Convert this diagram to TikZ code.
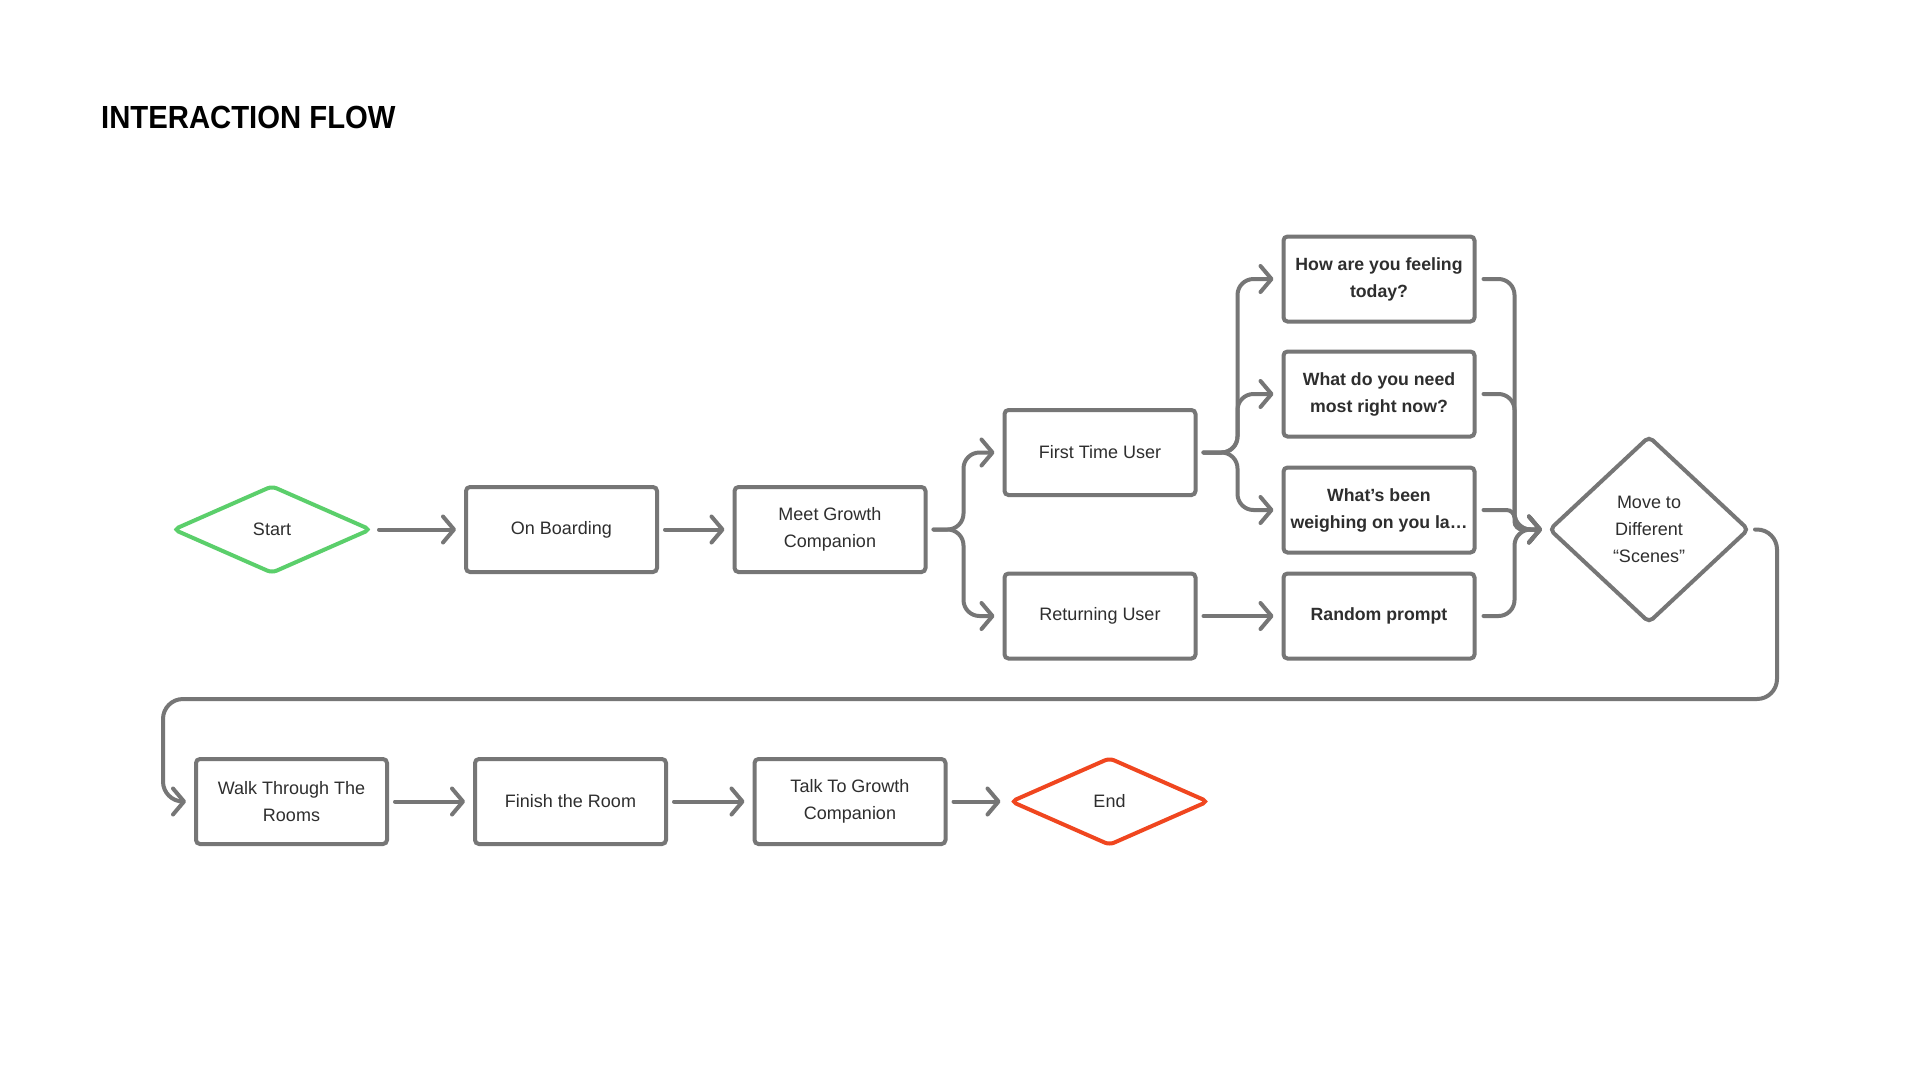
\documentclass[tikz,border=0pt]{standalone}
\usepackage{graphicx}
\usepackage{fontspec}
\setmainfont{Liberation Sans}
\usetikzlibrary{shapes.geometric,arrows.meta,calc}
\definecolor{lineg}{HTML}{767676}
\definecolor{txt}{HTML}{2E2E2E}
\definecolor{startg}{HTML}{5BCF6B}
\definecolor{endo}{HTML}{F0461F}
\begin{document}
\begin{tikzpicture}[x=1pt,y=-1pt,
  box/.style={draw=lineg, line width=4pt, rounded corners=4pt, minimum width=191pt, minimum height=85pt, inner sep=0pt, align=center, text=txt, font=\fontsize{18}{27}\selectfont, fill=white},
  qbox/.style={box, font=\fontsize{17.7}{27}\selectfont\bfseries},
  dia/.style={shape=diamond, line width=4pt, rounded corners=5pt, minimum width=198pt, minimum height=88pt, inner sep=0pt, align=center, text=txt, font=\fontsize{18}{27}\selectfont},
  conn/.style={draw=lineg, line width=4pt, line cap=round, rounded corners=16pt, -{Straight Barb[length=11pt,width=26pt,round]}},
]
\fill[white] (0,0) rectangle (1920,1080);
\useasboundingbox (0,0) rectangle (1920,1080);

\node[anchor=base west, inner sep=0pt, font=\fontsize{32}{32}\selectfont\bfseries] (title) at (101,128) {\scalebox{0.915}[1]{INTERACTION FLOW}};

\node[dia, draw=startg] (start) at (272,529.5) {Start};
\node[box] (onb) at (561.5,529.5) {On Boarding};
\node[box] (meet) at (830,529.5) {Meet Growth\\Companion};
\node[box] (first) at (1100,452.5) {First Time User};
\node[box] (ret) at (1100,616) {Returning User};
\node[qbox] (q1) at (1379,279) {How are you feeling\\today?};
\node[qbox] (q2) at (1379,394) {What do you need\\most right now?};
\node[qbox] (q3) at (1379,510) {What’s been\\weighing on you la…};
\node[qbox] (q4) at (1379,616) {Random prompt};
\node[dia, draw=lineg, minimum width=200pt, minimum height=187pt] (move) at (1649,529.5) {Move to\\Different\\“Scenes”};
\node[box] (walk) at (291.5,801.5) {Walk Through The\\Rooms};
\node[box] (fin) at (570.5,801.5) {Finish the Room};
\node[box] (talk) at (850,801.5) {Talk To Growth\\Companion};
\node[dia, draw=endo] (end) at (1109.5,801.5) {End};

\coordinate (loopR) at (1777,699);
\coordinate (loopL) at (163,699);

\draw[conn] ([xshift=6pt]start.east) -- ([xshift=-8pt]onb.west);
\draw[conn] ([xshift=6pt]onb.east) -- ([xshift=-8pt]meet.west);
\draw[conn] ([xshift=6pt]meet.east) -- ++(30,0) |- ([xshift=-8pt]first.west);
\draw[conn] ([xshift=6pt]meet.east) -- ++(30,0) |- ([xshift=-8pt]ret.west);
\draw[conn] ([xshift=6pt]first.east) -- ++(34,0) |- ([xshift=-8pt]q1.west);
\draw[conn] ([xshift=6pt]first.east) -- ++(34,0) |- ([xshift=-8pt]q2.west);
\draw[conn] ([xshift=6pt]first.east) -- ++(34,0) |- ([xshift=-8pt]q3.west);
\draw[conn] ([xshift=6pt]ret.east) -- ([xshift=-8pt]q4.west);
\draw[conn] ([xshift=7pt]q1.east) -- ++(31,0) |- ([xshift=-5pt]move.west);
\draw[conn] ([xshift=7pt]q2.east) -- ++(31,0) |- ([xshift=-5pt]move.west);
\draw[conn, rounded corners=8pt] ([xshift=7pt]q3.east) -- ++(31,0) |- ([xshift=-5pt]move.west);
\draw[conn] ([xshift=7pt]q4.east) -- ++(31,0) |- ([xshift=-5pt]move.west);
\draw[conn, rounded corners=20pt] ([xshift=4pt]move.east) -| (loopR) -- (loopL) -- (loopL |- walk.west) [rounded corners=10pt] -- ([xshift=-8pt]walk.west);
\draw[conn] ([xshift=6pt]walk.east) -- ([xshift=-8pt]fin.west);
\draw[conn] ([xshift=6pt]fin.east) -- ([xshift=-8pt]talk.west);
\draw[conn] ([xshift=6pt]talk.east) -- ([xshift=-8pt]end.west);
\end{tikzpicture}
\end{document}
